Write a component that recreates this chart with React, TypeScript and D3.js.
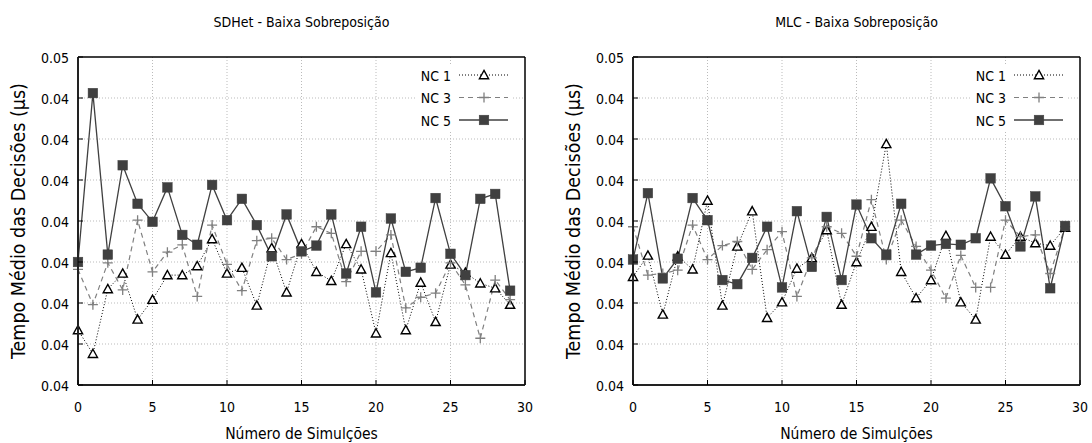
import React from "react";
import * as d3 from "d3";

const xValues = d3.range(0, 30);
const yTickValues = [0.041, 0.0415, 0.042, 0.0425, 0.043, 0.0435, 0.044, 0.0445, 0.045];
const yTickLabels = ["0.04", "0.04", "0.04", "0.04", "0.04", "0.04", "0.04", "0.04", "0.05"];
const xTickValues = [0, 5, 10, 15, 20, 25, 30];

const sdhetNC1 = [0.04167, 0.04138, 0.04217, 0.04236, 0.0418, 0.04204, 0.04234, 0.04234, 0.04245, 0.04278, 0.04236, 0.04243, 0.04197, 0.04267, 0.04213, 0.04272, 0.04238, 0.04227, 0.04272, 0.04241, 0.04163, 0.04261, 0.04167, 0.04225, 0.04177, 0.04247, 0.04237, 0.04224, 0.04218, 0.04198];
const sdhetNC3 = [0.04241, 0.04198, 0.04249, 0.04216, 0.04301, 0.04238, 0.04262, 0.04271, 0.04208, 0.04295, 0.04247, 0.04215, 0.04276, 0.04279, 0.04253, 0.0426, 0.04293, 0.04285, 0.04226, 0.04263, 0.04263, 0.04283, 0.04194, 0.04207, 0.04212, 0.04249, 0.04222, 0.04157, 0.04228, 0.04204];
const sdhetNC5 = [0.0425, 0.04456, 0.04259, 0.04368, 0.04321, 0.04299, 0.04341, 0.04283, 0.04271, 0.04344, 0.04301, 0.04327, 0.04295, 0.04257, 0.04308, 0.04263, 0.0427, 0.04308, 0.04236, 0.04293, 0.04213, 0.04303, 0.04238, 0.04243, 0.04328, 0.0426, 0.04234, 0.04327, 0.04333, 0.04215];

const mlcNC1 = [0.04232, 0.04258, 0.04186, 0.04257, 0.04241, 0.04325, 0.04197, 0.04269, 0.04312, 0.04182, 0.04201, 0.04242, 0.04255, 0.04289, 0.04198, 0.0425, 0.04293, 0.04394, 0.04238, 0.04206, 0.04228, 0.04282, 0.04201, 0.0418, 0.04281, 0.04259, 0.04281, 0.04273, 0.0427, 0.04292];
const mlcNC3 = [0.04293, 0.04234, 0.04236, 0.0424, 0.04295, 0.04253, 0.0427, 0.04275, 0.04241, 0.04265, 0.04287, 0.04208, 0.04255, 0.04293, 0.04285, 0.04257, 0.04326, 0.04253, 0.04301, 0.04269, 0.0424, 0.04206, 0.04258, 0.04219, 0.04219, 0.04301, 0.04281, 0.04283, 0.04236, 0.04293];
const mlcNC5 = [0.04253, 0.04334, 0.0423, 0.04254, 0.04328, 0.04301, 0.04228, 0.04223, 0.04255, 0.04293, 0.04219, 0.04312, 0.04244, 0.04305, 0.04228, 0.0432, 0.04279, 0.04259, 0.04321, 0.04259, 0.0427, 0.04272, 0.04271, 0.04279, 0.04352, 0.04318, 0.04269, 0.0433, 0.04218, 0.04294];

const seriesNames = ["NC 1", "NC 3", "NC 5"];
const panelTitles = ["SDHet - Baixa Sobreposição", "MLC - Baixa Sobreposição"];
const xLabel = "Número de Simulções";
const yLabel = "Tempo Médio das Decisões (µs)";

const FONT = "'DejaVu Sans Condensed', 'DejaVu Sans', sans-serif";
const W = 1092;
const H = 443;
const TOP = 57;
const BOTTOM = 385;
const PLOT_W = 447;
const FS = 14;
const XLABEL_FS = 15.5;
const YLABEL_FS = 19.5;

type Style = { stroke: string; dash: string; width: number; marker: "tri" | "plus" | "sq" };
const styles: Style[] = [
  { stroke: "#000", dash: "1,2", width: 1, marker: "tri" },
  { stroke: "#808080", dash: "5,4", width: 1.2, marker: "plus" },
  { stroke: "#404040", dash: "", width: 1.3, marker: "sq" },
];

function Marker({ kind, x, y }: { kind: string; x: number; y: number }) {
  if (kind === "tri") {
    const s = 4.6;
    return (
      <path
        d={`M${x},${y - s}L${x + s},${y + s * 0.8}L${x - s},${y + s * 0.8}Z`}
        fill="#fff"
        stroke="#000"
        strokeWidth={1.4}
      />
    );
  }
  if (kind === "plus") {
    const s = 5;
    return (
      <path d={`M${x - s},${y}H${x + s}M${x},${y - s}V${y + s}`} stroke="#808080" strokeWidth={1.3} fill="none" />
    );
  }
  const s = 4.8;
  return <rect x={x - s} y={y - s} width={2 * s} height={2 * s} fill="#404040" stroke="#404040" strokeWidth={0.5} />;
}

function Panel({ left, title, data }: { left: number; title: string; data: number[][] }) {
  const x = d3.scaleLinear().domain([0, 30]).range([left, left + PLOT_W]);
  const y = d3.scaleLinear().domain([0.041, 0.045]).range([BOTTOM, TOP]);
  const right = left + PLOT_W;
  const legX = right - 74;
  const legRows = [75, 97.5, 120];
  return (
    <g>
      <text x={(left + right) / 2} y={27} textAnchor="middle" fontSize={FS} fontFamily={FONT} fill="#000">
        {title}
      </text>
      {yTickValues.slice(1, -1).map((v) => (
        <line key={"gy" + v} x1={left} x2={right} y1={y(v)} y2={y(v)} stroke="#bbb" strokeWidth={1} strokeDasharray="1,2" />
      ))}
      {xTickValues.slice(1, -1).map((v) => (
        <line key={"gx" + v} x1={x(v)} x2={x(v)} y1={TOP} y2={BOTTOM} stroke="#bbb" strokeWidth={1} strokeDasharray="1,2" />
      ))}
      <rect x={right - 108} y={64} width={96} height={66} fill="#fff" />
      {data.map((vals, i) => {
        const st = styles[i];
        const line = d3
          .line<number>()
          .x((_, j) => x(xValues[j]))
          .y((d) => y(d));
        return (
          <path key={"s" + i} d={line(vals) || ""} fill="none" stroke={st.stroke} strokeWidth={st.width} strokeDasharray={st.dash} />
        );
      })}
      {data.map((vals, i) => (
        <g key={"m" + i}>
          {vals.map((v, j) => (
            <Marker key={j} kind={styles[i].marker} x={x(xValues[j])} y={y(v)} />
          ))}
        </g>
      ))}
      {seriesNames.map((n, i) => (
        <g key={"l" + i}>
          <text x={legX} y={legRows[i] + 5.5} textAnchor="end" fontSize={FS} fontFamily={FONT} fill="#000">
            {n}
          </text>
          <line
            x1={legX + 8}
            x2={legX + 57}
            y1={legRows[i]}
            y2={legRows[i]}
            stroke={styles[i].stroke}
            strokeWidth={styles[i].width}
            strokeDasharray={styles[i].dash}
          />
          <Marker kind={styles[i].marker} x={legX + 33} y={legRows[i]} />
        </g>
      ))}
      <line x1={left} x2={right} y1={TOP} y2={TOP} stroke="#000" strokeWidth={1.5} />
      <line x1={right} x2={right} y1={TOP} y2={BOTTOM} stroke="#000" strokeWidth={1.5} />
      <line x1={left} x2={left} y1={TOP} y2={BOTTOM} stroke="#222" strokeWidth={2} />
      <line x1={left} x2={right} y1={BOTTOM} y2={BOTTOM} stroke="#222" strokeWidth={2} />
      {yTickValues.map((v, i) => (
        <g key={"ty" + i}>
          <line x1={left} x2={left + 5} y1={y(v)} y2={y(v)} stroke="#000" />
          <text x={left - 9} y={y(v) + 6} textAnchor="end" fontSize={FS} fontFamily={FONT} fill="#000">
            {yTickLabels[i]}
          </text>
        </g>
      ))}
      {xTickValues.map((v) => (
        <g key={"tx" + v}>
          <line x1={x(v)} x2={x(v)} y1={BOTTOM} y2={BOTTOM - 5} stroke="#000" />
          <text x={x(v)} y={BOTTOM + 27} textAnchor="middle" fontSize={FS} fontFamily={FONT} fill="#000">
            {v}
          </text>
        </g>
      ))}
      <text x={(left + right) / 2} y={439} textAnchor="middle" fontSize={XLABEL_FS} fontFamily={FONT} fill="#000">
        {xLabel}
      </text>
      <text
        transform={`translate(${left - 53},${(TOP + BOTTOM) / 2}) rotate(-90)`}
        textAnchor="middle"
        fontSize={YLABEL_FS}
        fontFamily={FONT}
        fill="#000"
      >
        {yLabel}
      </text>
    </g>
  );
}

export default function App() {
  return (
    <svg width={W} height={H} style={{ position: "absolute", left: 0, top: 0, background: "#fff" }}>
      <rect width={W} height={H} fill="#fff" />
      <Panel left={78} title={panelTitles[0]} data={[sdhetNC1, sdhetNC3, sdhetNC5]} />
      <Panel left={633} title={panelTitles[1]} data={[mlcNC1, mlcNC3, mlcNC5]} />
    </svg>
  );
}
